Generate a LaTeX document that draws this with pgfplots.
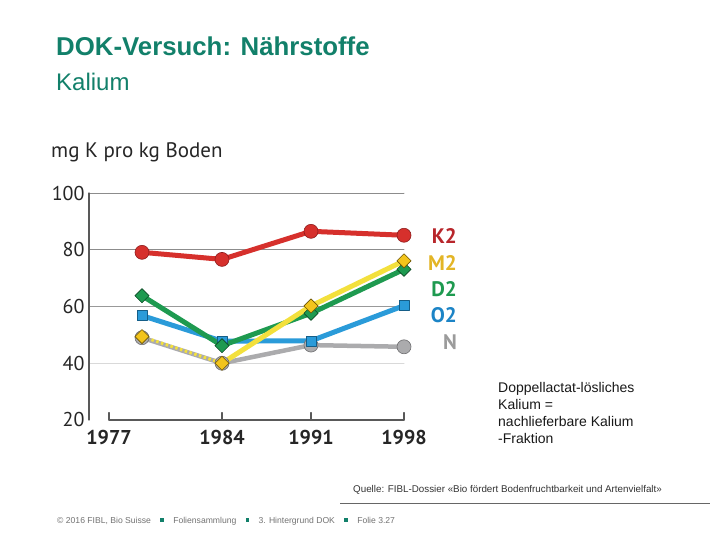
\documentclass[border=0pt]{standalone}
\usepackage{pgfplots}
\pgfplotsset{compat=1.18}
\usepackage{fontspec}
\setmainfont{Liberation Sans}
\newfontfamily\chartfont{PT Sans}
\definecolor{titlegreen}{HTML}{12806A}
\definecolor{kred}{HTML}{D6302C}
\definecolor{kredd}{HTML}{8E1C1C}
\definecolor{myel}{HTML}{F3E03C}
\definecolor{myelf}{HTML}{F2C41C}
\definecolor{myeld}{HTML}{6E5500}
\definecolor{dgreen}{HTML}{1E9A50}
\definecolor{dgreend}{HTML}{0C4A25}
\definecolor{oblue}{HTML}{2A9BD9}
\definecolor{obluedd}{HTML}{155E88}
\definecolor{ngray}{HTML}{ABABAD}
\definecolor{ngrayd}{HTML}{6E6E70}
\definecolor{lblK}{HTML}{B8262B}
\definecolor{lblM}{HTML}{E3B526}
\definecolor{lblD}{HTML}{1E9A50}
\definecolor{lblO}{HTML}{1C84C6}
\definecolor{lblN}{HTML}{9B9B9B}
\begin{document}
\begin{tikzpicture}
\path[use as bounding box, fill=white] (0,0) rectangle (720bp,540bp);
% titles
\node[anchor=base west, inner sep=0, text=titlegreen, font=\fontsize{25.8bp}{28bp}\selectfont\bfseries] at (56bp,484bp) {DOK-Versuch: Nährstoffe};
\node[anchor=base west, inner sep=0, text=titlegreen, font=\fontsize{24bp}{27bp}\selectfont] at (56bp,449bp) {Kalium};
% y unit label
\node[anchor=west, inner sep=0, text=black!85, font=\chartfont\fontsize{21bp}{24bp}\selectfont] at (51bp,388bp) {mg K pro kg Boden};
\begin{axis}[
  at={(89bp,120bp)}, anchor=south west,
  scale only axis, width=315bp, height=227bp,
  xmin=89, xmax=404, ymin=20, ymax=100,
  clip=false,
  axis line style={draw=none},
  major tick length=0pt,
  xtick={109,222,311,404},
  xticklabels={1977,1984,1991,1998},
  ytick={20,40,60,80,100},
  /pgf/number format/assume math mode=true,
  tick label style={font=\chartfont\fontsize{20bp}{22bp}\selectfont, text=black!85},
  xticklabel style={font=\chartfont\bfseries\fontsize{20bp}{22bp}\selectfont, anchor=center, yshift=-18bp},
  yticklabel style={anchor=east, xshift=-1bp},
  line join=round, line cap=round,
]
% grid and axes
\draw[black!45, line width=0.8bp] (axis cs:89,100) -- (axis cs:404,100);
\draw[black!45, line width=0.8bp] (axis cs:89,80) -- (axis cs:404,80);
\draw[black!40, line width=0.8bp] (axis cs:89,60) -- (axis cs:404,60);
\draw[black!15, line width=0.8bp] (axis cs:89,40) -- (axis cs:404,40);
\draw[black!65, line width=1.2bp] (axis cs:89,20) -- (axis cs:89,100);
\draw[black!65, line width=1.2bp] (axis cs:109,20) -- (axis cs:404,20);
\foreach \t in {109,222,311,404} {
  \edef\tmp{\noexpand\draw[black!65, line width=1.2bp] (axis cs:\t,20) -- (axis cs:\t,22.6);}\tmp
}
% N
\addplot[ngray, line width=4.5bp, mark=*, mark size=7bp, mark options={fill=ngray, draw=ngrayd, line width=0.6bp}]
  coordinates {(142,49) (222,40) (311,46.4) (404,45.8)};
% O2
\addplot[oblue, line width=5bp, mark=square*, mark size=5bp, mark options={fill=oblue, draw=obluedd, line width=0.5bp}]
  coordinates {(142,56.8) (222,47.8) (311,47.9) (404,60.3)};
% D2
\addplot[dgreen, line width=5bp, mark=square*, mark size=5bp, mark options={rotate=45, fill=dgreen, draw=dgreend, line width=0.6bp}]
  coordinates {(142,63.8) (222,46.2) (311,57.6) (404,73.1)};
% M2
\addplot[myel, line width=3bp, dash pattern=on 2.5bp off 2.5bp, line cap=butt]
  coordinates {(142,49.4) (222,40)};
\addplot[myel, line width=5bp]
  coordinates {(222,40) (311,60.2) (404,76.1)};
\addplot[only marks, mark=square*, mark size=5bp, mark options={rotate=45, fill=myelf, draw=myeld, line width=0.6bp}]
  coordinates {(142,49.4) (222,40) (311,60.2) (404,76.1)};
% K2
\addplot[kred, line width=5bp, mark=*, mark size=7bp, mark options={fill=kred, draw=kredd, line width=0.6bp}]
  coordinates {(142,79.1) (222,76.6) (311,86.5) (404,85.1)};
\end{axis}
% series labels
\begin{scope}[font=\chartfont\bfseries\fontsize{21bp}{24bp}\selectfont]
\node[anchor=east, inner sep=0, text=lblK] at (457bp,304bp) {K2};
\node[anchor=east, inner sep=0, text=lblM] at (457bp,277bp) {M2};
\node[anchor=east, inner sep=0, text=lblD] at (457bp,251bp) {D2};
\node[anchor=east, inner sep=0, text=lblO] at (457bp,225bp) {O2};
\node[anchor=east, inner sep=0, text=lblN] at (457bp,198bp) {N};
\end{scope}
% note
\node[anchor=north west, inner sep=0, align=left, font=\fontsize{14bp}{17bp}\selectfont, text=black!90] at (498bp,158bp)
  {Doppellactat-lösliches\\Kalium =\\nachlieferbare Kalium\\-Fraktion};
% source
\node[anchor=west, inner sep=0, font=\fontsize{9.8bp}{11bp}\selectfont, text=black!80] at (353bp,50bp)
  {Quelle: FIBL-Dossier «Bio fördert Bodenfruchtbarkeit und Artenvielfalt»};
\draw[black!60, line width=1bp] (340bp,36bp) -- (710bp,36bp);
% footer
\node[anchor=west, inner sep=0, font=\fontsize{8.6bp}{10bp}\selectfont, text=black!55] at (57bp,19bp)
  {© 2016 FIBL, Bio Suisse \hspace{7bp}{\color{titlegreen}\rule[1.5bp]{3.5bp}{3.5bp}}\hspace{7bp} Foliensammlung \hspace{7bp}{\color{titlegreen}\rule[1.5bp]{3.5bp}{3.5bp}}\hspace{7bp} 3. Hintergrund DOK \hspace{7bp}{\color{titlegreen}\rule[1.5bp]{3.5bp}{3.5bp}}\hspace{7bp} Folie 3.27};
\end{tikzpicture}
\end{document}
